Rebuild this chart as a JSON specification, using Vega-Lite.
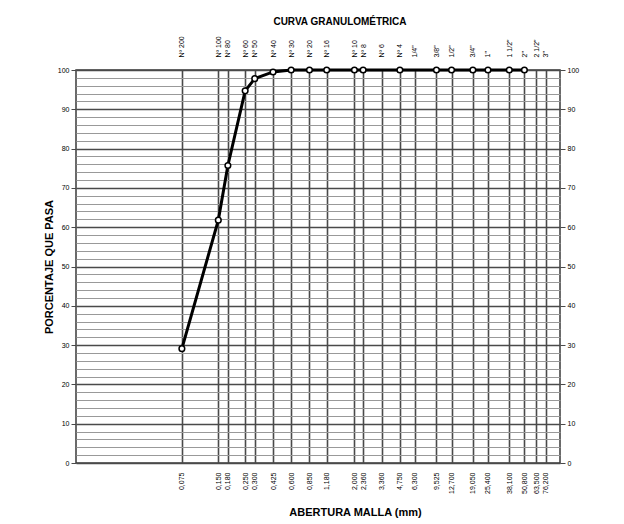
{
  "$schema": "https://vega.github.io/schema/vega-lite/v6.json",
  "width": 484,
  "height": 393,
  "autosize": "none",
  "padding": {"left": 76, "top": 70, "right": 64, "bottom": 61},
  "background": "white",
  "config": {
    "font": "'Liberation Sans Narrow', 'Liberation Sans', Arial, sans-serif",
    "view": {"stroke": "#3a3a3a", "strokeWidth": 1.5}
  },
  "title": {
    "text": "CURVA GRANULOMÉTRICA",
    "fontSize": 10,
    "fontWeight": "bold",
    "color": "black",
    "anchor": "middle",
    "dx": 22,
    "offset": 9
  },
  "data": {
    "values": [
      {"abertura": 0.075, "tamiz": "Nº 200", "pasa": 29.1},
      {"abertura": 0.15, "tamiz": "Nº 100", "pasa": 61.8},
      {"abertura": 0.18, "tamiz": "Nº 80", "pasa": 75.7},
      {"abertura": 0.25, "tamiz": "Nº 60", "pasa": 94.7},
      {"abertura": 0.3, "tamiz": "Nº 50", "pasa": 97.8},
      {"abertura": 0.425, "tamiz": "Nº 40", "pasa": 99.5},
      {"abertura": 0.6, "tamiz": "Nº 30", "pasa": 100},
      {"abertura": 0.85, "tamiz": "Nº 20", "pasa": 100},
      {"abertura": 1.18, "tamiz": "Nº 16", "pasa": 100},
      {"abertura": 2.0, "tamiz": "Nº 10", "pasa": 100},
      {"abertura": 2.36, "tamiz": "Nº 8", "pasa": 100},
      {"abertura": 4.75, "tamiz": "Nº 4", "pasa": 100},
      {"abertura": 9.525, "tamiz": "3/8\"", "pasa": 100},
      {"abertura": 12.7, "tamiz": "1/2\"", "pasa": 100},
      {"abertura": 19.05, "tamiz": "3/4\"", "pasa": 100},
      {"abertura": 25.4, "tamiz": "1\"", "pasa": 100},
      {"abertura": 38.1, "tamiz": "1 1/2\"", "pasa": 100},
      {"abertura": 50.8, "tamiz": "2\"", "pasa": 100}
    ]
  },
  "resolve": {"axis": {"x": "independent", "y": "independent"}},
  "layer": [
    {
      "mark": {"type": "point", "opacity": 0},
      "encoding": {
        "x": {"field": "abertura", "type": "quantitative", "scale": {"type": "log", "domain": [0.01, 100], "nice": false}, "axis": null},
        "y": {
          "field": "pasa", "type": "quantitative",
          "scale": {"domain": [0, 100], "nice": false, "zero": false},
          "axis": {
            "orient": "left",
            "values": [0,2,4,6,8,10,12,14,16,18,20,22,24,26,28,30,32,34,36,38,40,42,44,46,48,50,52,54,56,58,60,62,64,66,68,70,72,74,76,78,80,82,84,86,88,90,92,94,96,98,100],
            "grid": true, "gridColor": "#999999", "gridWidth": 1, "gridOpacity": 1,
            "labels": false, "ticks": false, "domain": false, "title": null
          }
        }
      }
    },
    {
      "mark": {"type": "line", "color": "black", "strokeWidth": 3},
      "encoding": {
        "x": {
          "field": "abertura", "type": "quantitative",
          "scale": {"type": "log", "domain": [0.01, 100], "nice": false},
          "axis": {
            "orient": "bottom",
            "values": [0.075,0.15,0.18,0.25,0.3,0.425,0.6,0.85,1.18,2,2.36,3.36,4.75,6.3,9.525,12.7,19.05,25.4,38.1,50.8,63.5,76.2],
            "labelExpr": "replace(format(datum.value,'.3f'),'.',',')",
            "labelAngle": 270, "labelFontSize": 7, "labelColor": "black", "labelPadding": 9,
            "labelOverlap": false, "labelFlush": false,
            "grid": true, "gridColor": "#4a4a4a", "gridWidth": 1.6, "gridOpacity": 1,
            "ticks": false, "domain": false,
            "title": "ABERTURA MALLA (mm)", "titleFontSize": 11, "titleFontWeight": "bold", "titleColor": "black",
            "titleX": 279, "titlePadding": 13
          }
        },
        "y": {
          "field": "pasa", "type": "quantitative",
          "scale": {"domain": [0, 100], "nice": false, "zero": false},
          "axis": {
            "orient": "left",
            "values": [0,10,20,30,40,50,60,70,80,90,100],
            "grid": true, "gridColor": "#4a4a4a", "gridWidth": 1.5, "gridOpacity": 1,
            "ticks": true, "tickSize": 5, "tickColor": "#4a4a4a", "domain": false,
            "labelFontSize": 7, "labelColor": "black", "labelPadding": 2,
            "title": "PORCENTAJE QUE PASA", "titleFontSize": 11, "titleFontWeight": "bold", "titleColor": "black",
            "titlePadding": 3
          }
        }
      }
    },
    {
      "mark": {"type": "point", "filled": true, "fill": "white", "stroke": "black", "strokeWidth": 1.5, "size": 32, "opacity": 1},
      "encoding": {
        "x": {
          "field": "abertura", "type": "quantitative",
          "scale": {"type": "log", "domain": [0.01, 100], "nice": false},
          "axis": {
            "orient": "top",
            "values": [0.075,0.15,0.18,0.25,0.3,0.425,0.6,0.85,1.18,2,2.36,3.36,4.75,6.3,9.525,12.7,19.05,25.4,38.1,50.8,63.5,76.2],
            "labelExpr": "['Nº 200','Nº 100','Nº 80','Nº 60','Nº 50','Nº 40','Nº 30','Nº 20','Nº 16','Nº 10','Nº 8','Nº 6','Nº 4','1/4\"','3/8\"','1/2\"','3/4\"','1\"','1 1/2\"','2\"','2 1/2\"','3\"'][indexof([0.075,0.15,0.18,0.25,0.3,0.425,0.6,0.85,1.18,2,2.36,3.36,4.75,6.3,9.525,12.7,19.05,25.4,38.1,50.8,63.5,76.2], datum.value)]",
            "labelAngle": 270, "labelFontSize": 7, "labelColor": "black", "labelPadding": 13,
            "labelOverlap": false, "labelFlush": false,
            "grid": false, "ticks": false, "domain": false, "title": null
          }
        },
        "y": {
          "field": "pasa", "type": "quantitative",
          "scale": {"domain": [0, 100], "nice": false, "zero": false},
          "axis": {
            "orient": "right",
            "values": [0,10,20,30,40,50,60,70,80,90,100],
            "grid": false, "ticks": true, "tickSize": 5, "tickColor": "#4a4a4a", "domain": false,
            "labelFontSize": 7, "labelColor": "black", "labelPadding": 2,
            "title": null
          }
        }
      }
    }
  ]
}
